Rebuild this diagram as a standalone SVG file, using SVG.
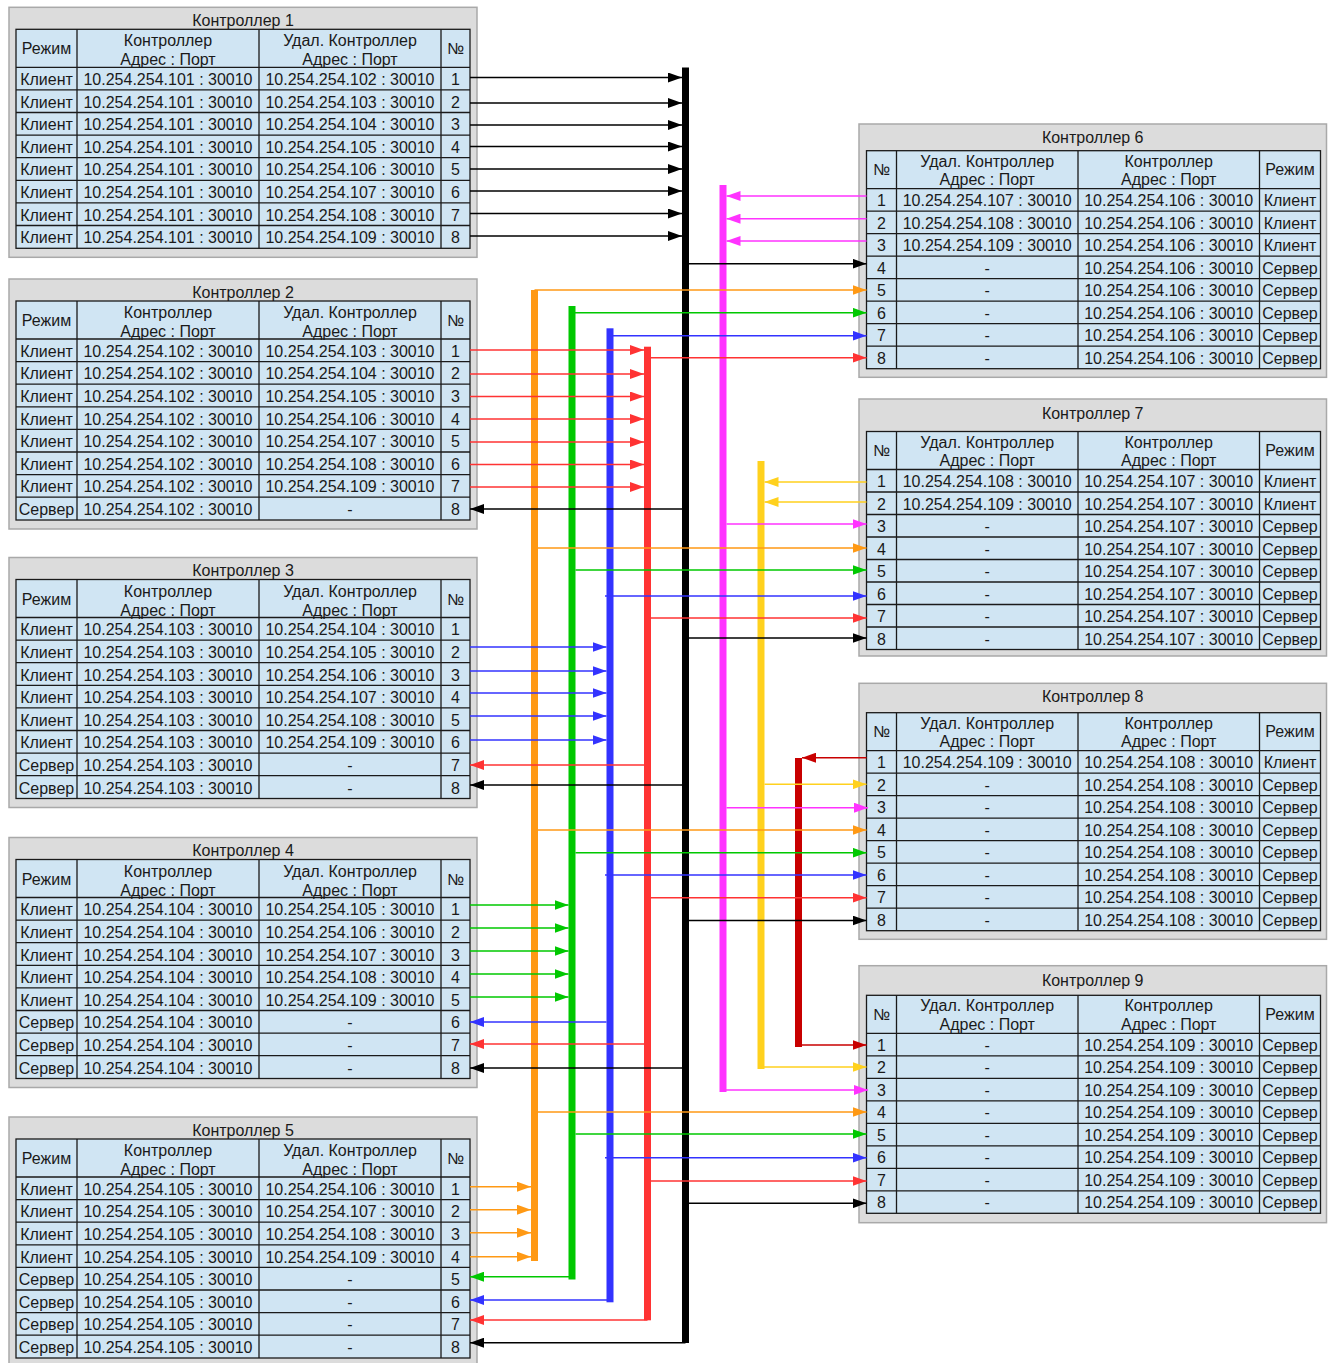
<svg xmlns="http://www.w3.org/2000/svg" xmlns:xlink="http://www.w3.org/1999/xlink" width="1332" height="1363" viewBox="0 0 1332 1363">
<style>
text{font-family:"Liberation Sans",Arial,sans-serif;font-size:16px;fill:#1a1a1a;text-anchor:middle}
.o{fill:#dcdcdc;stroke:#a9a9a9;stroke-width:1.5}
.c{fill:#d0e5f3;stroke:#1a1a1a;stroke-width:1.3}
.g{fill:none;stroke:#1a1a1a;stroke-width:1.3}
.e{fill:none;stroke-width:1.6}
.k{stroke:#000000}.kf{fill:#000000}
.or{stroke:#ff9914}.orf{fill:#ff9914}
.gr{stroke:#00c800}.grf{fill:#00c800}
.bl{stroke:#3333ff}.blf{fill:#3333ff}
.rd{stroke:#ff3333}.rdf{fill:#ff3333}
.mg{stroke:#ff33ff}.mgf{fill:#ff33ff}
.ye{stroke:#ffd11e}.yef{fill:#ffd11e}
.dr{stroke:#c80000}.drf{fill:#c80000}
.ak{marker-end:url(#ak)}.aor{marker-end:url(#aor)}.agr{marker-end:url(#agr)}.abl{marker-end:url(#abl)}
.ard{marker-end:url(#ard)}.amg{marker-end:url(#amg)}.aye{marker-end:url(#aye)}.adr{marker-end:url(#adr)}
</style>
<defs>
<marker id="ak" markerUnits="userSpaceOnUse" markerWidth="14" markerHeight="10" refX="14" refY="5" orient="auto"><path d="M0,0L14,5L0,10z" fill="#000000"/></marker>
<marker id="aor" markerUnits="userSpaceOnUse" markerWidth="14" markerHeight="10" refX="14" refY="5" orient="auto"><path d="M0,0L14,5L0,10z" fill="#ff9914"/></marker>
<marker id="agr" markerUnits="userSpaceOnUse" markerWidth="14" markerHeight="10" refX="14" refY="5" orient="auto"><path d="M0,0L14,5L0,10z" fill="#00c800"/></marker>
<marker id="abl" markerUnits="userSpaceOnUse" markerWidth="14" markerHeight="10" refX="14" refY="5" orient="auto"><path d="M0,0L14,5L0,10z" fill="#3333ff"/></marker>
<marker id="ard" markerUnits="userSpaceOnUse" markerWidth="14" markerHeight="10" refX="14" refY="5" orient="auto"><path d="M0,0L14,5L0,10z" fill="#ff3333"/></marker>
<marker id="amg" markerUnits="userSpaceOnUse" markerWidth="14" markerHeight="10" refX="14" refY="5" orient="auto"><path d="M0,0L14,5L0,10z" fill="#ff33ff"/></marker>
<marker id="aye" markerUnits="userSpaceOnUse" markerWidth="14" markerHeight="10" refX="14" refY="5" orient="auto"><path d="M0,0L14,5L0,10z" fill="#ffd11e"/></marker>
<marker id="adr" markerUnits="userSpaceOnUse" markerWidth="14" markerHeight="10" refX="14" refY="5" orient="auto"><path d="M0,0L14,5L0,10z" fill="#c80000"/></marker>
<g id="lgrid">
<rect class="c" x="16" y="22" width="454" height="219"/>
<path class="g" d="M77,22V241M259,22V241M441,22V241M16,60H470M16,82.6H470M16,105.2H470M16,127.8H470M16,150.4H470M16,173H470M16,195.6H470M16,218.2H470"/>
<text x="46.5" y="47">Режим</text>
<text x="168" y="39">Контроллер</text>
<text x="168" y="58">Адрес : Порт</text>
<text x="350" y="39">Удал. Контроллер</text>
<text x="350" y="58">Адрес : Порт</text>
<text x="455.5" y="47">№</text>
</g>
<g id="rgrid">
<rect class="c" x="866.5" y="0" width="454" height="218"/>
<path class="g" d="M896.5,0V218M1078,0V218M1259.5,0V218M866.5,38H1320.5M866.5,60.5H1320.5M866.5,83H1320.5M866.5,105.5H1320.5M866.5,128H1320.5M866.5,150.5H1320.5M866.5,173H1320.5M866.5,195.5H1320.5"/>
<text x="881.5" y="24.3">№</text>
<text x="987.2" y="16">Удал. Контроллер</text>
<text x="987.2" y="34.3">Адрес : Порт</text>
<text x="1168.7" y="16">Контроллер</text>
<text x="1168.7" y="34.3">Адрес : Порт</text>
<text x="1290" y="24.3">Режим</text>
</g>
</defs>

<g id="controller1" transform="translate(0,7.3)">
<rect class="o" x="9" y="0" width="468" height="250"/>
<text x="243" y="18.5">Контроллер 1</text>
<use xlink:href="#lgrid" href="#lgrid"/>
<text x="46.5" y="77.8">Клиент</text><text x="168" y="77.8">10.254.254.101 : 30010</text><text x="350" y="77.8">10.254.254.102 : 30010</text><text x="455.5" y="77.8">1</text>
<text x="46.5" y="100.4">Клиент</text><text x="168" y="100.4">10.254.254.101 : 30010</text><text x="350" y="100.4">10.254.254.103 : 30010</text><text x="455.5" y="100.4">2</text>
<text x="46.5" y="123">Клиент</text><text x="168" y="123">10.254.254.101 : 30010</text><text x="350" y="123">10.254.254.104 : 30010</text><text x="455.5" y="123">3</text>
<text x="46.5" y="145.6">Клиент</text><text x="168" y="145.6">10.254.254.101 : 30010</text><text x="350" y="145.6">10.254.254.105 : 30010</text><text x="455.5" y="145.6">4</text>
<text x="46.5" y="168.2">Клиент</text><text x="168" y="168.2">10.254.254.101 : 30010</text><text x="350" y="168.2">10.254.254.106 : 30010</text><text x="455.5" y="168.2">5</text>
<text x="46.5" y="190.8">Клиент</text><text x="168" y="190.8">10.254.254.101 : 30010</text><text x="350" y="190.8">10.254.254.107 : 30010</text><text x="455.5" y="190.8">6</text>
<text x="46.5" y="213.4">Клиент</text><text x="168" y="213.4">10.254.254.101 : 30010</text><text x="350" y="213.4">10.254.254.108 : 30010</text><text x="455.5" y="213.4">7</text>
<text x="46.5" y="236">Клиент</text><text x="168" y="236">10.254.254.101 : 30010</text><text x="350" y="236">10.254.254.109 : 30010</text><text x="455.5" y="236">8</text>
</g>

<g id="controller2" transform="translate(0,279)">
<rect class="o" x="9" y="0" width="468" height="250"/>
<text x="243" y="18.5">Контроллер 2</text>
<use xlink:href="#lgrid" href="#lgrid"/>
<text x="46.5" y="77.8">Клиент</text><text x="168" y="77.8">10.254.254.102 : 30010</text><text x="350" y="77.8">10.254.254.103 : 30010</text><text x="455.5" y="77.8">1</text>
<text x="46.5" y="100.4">Клиент</text><text x="168" y="100.4">10.254.254.102 : 30010</text><text x="350" y="100.4">10.254.254.104 : 30010</text><text x="455.5" y="100.4">2</text>
<text x="46.5" y="123">Клиент</text><text x="168" y="123">10.254.254.102 : 30010</text><text x="350" y="123">10.254.254.105 : 30010</text><text x="455.5" y="123">3</text>
<text x="46.5" y="145.6">Клиент</text><text x="168" y="145.6">10.254.254.102 : 30010</text><text x="350" y="145.6">10.254.254.106 : 30010</text><text x="455.5" y="145.6">4</text>
<text x="46.5" y="168.2">Клиент</text><text x="168" y="168.2">10.254.254.102 : 30010</text><text x="350" y="168.2">10.254.254.107 : 30010</text><text x="455.5" y="168.2">5</text>
<text x="46.5" y="190.8">Клиент</text><text x="168" y="190.8">10.254.254.102 : 30010</text><text x="350" y="190.8">10.254.254.108 : 30010</text><text x="455.5" y="190.8">6</text>
<text x="46.5" y="213.4">Клиент</text><text x="168" y="213.4">10.254.254.102 : 30010</text><text x="350" y="213.4">10.254.254.109 : 30010</text><text x="455.5" y="213.4">7</text>
<text x="46.5" y="236">Сервер</text><text x="168" y="236">10.254.254.102 : 30010</text><text x="350" y="236">-</text><text x="455.5" y="236">8</text>
</g>

<g id="controller3" transform="translate(0,557.5)">
<rect class="o" x="9" y="0" width="468" height="250"/>
<text x="243" y="18.5">Контроллер 3</text>
<use xlink:href="#lgrid" href="#lgrid"/>
<text x="46.5" y="77.8">Клиент</text><text x="168" y="77.8">10.254.254.103 : 30010</text><text x="350" y="77.8">10.254.254.104 : 30010</text><text x="455.5" y="77.8">1</text>
<text x="46.5" y="100.4">Клиент</text><text x="168" y="100.4">10.254.254.103 : 30010</text><text x="350" y="100.4">10.254.254.105 : 30010</text><text x="455.5" y="100.4">2</text>
<text x="46.5" y="123">Клиент</text><text x="168" y="123">10.254.254.103 : 30010</text><text x="350" y="123">10.254.254.106 : 30010</text><text x="455.5" y="123">3</text>
<text x="46.5" y="145.6">Клиент</text><text x="168" y="145.6">10.254.254.103 : 30010</text><text x="350" y="145.6">10.254.254.107 : 30010</text><text x="455.5" y="145.6">4</text>
<text x="46.5" y="168.2">Клиент</text><text x="168" y="168.2">10.254.254.103 : 30010</text><text x="350" y="168.2">10.254.254.108 : 30010</text><text x="455.5" y="168.2">5</text>
<text x="46.5" y="190.8">Клиент</text><text x="168" y="190.8">10.254.254.103 : 30010</text><text x="350" y="190.8">10.254.254.109 : 30010</text><text x="455.5" y="190.8">6</text>
<text x="46.5" y="213.4">Сервер</text><text x="168" y="213.4">10.254.254.103 : 30010</text><text x="350" y="213.4">-</text><text x="455.5" y="213.4">7</text>
<text x="46.5" y="236">Сервер</text><text x="168" y="236">10.254.254.103 : 30010</text><text x="350" y="236">-</text><text x="455.5" y="236">8</text>
</g>

<g id="controller4" transform="translate(0,837.5)">
<rect class="o" x="9" y="0" width="468" height="250"/>
<text x="243" y="18.5">Контроллер 4</text>
<use xlink:href="#lgrid" href="#lgrid"/>
<text x="46.5" y="77.8">Клиент</text><text x="168" y="77.8">10.254.254.104 : 30010</text><text x="350" y="77.8">10.254.254.105 : 30010</text><text x="455.5" y="77.8">1</text>
<text x="46.5" y="100.4">Клиент</text><text x="168" y="100.4">10.254.254.104 : 30010</text><text x="350" y="100.4">10.254.254.106 : 30010</text><text x="455.5" y="100.4">2</text>
<text x="46.5" y="123">Клиент</text><text x="168" y="123">10.254.254.104 : 30010</text><text x="350" y="123">10.254.254.107 : 30010</text><text x="455.5" y="123">3</text>
<text x="46.5" y="145.6">Клиент</text><text x="168" y="145.6">10.254.254.104 : 30010</text><text x="350" y="145.6">10.254.254.108 : 30010</text><text x="455.5" y="145.6">4</text>
<text x="46.5" y="168.2">Клиент</text><text x="168" y="168.2">10.254.254.104 : 30010</text><text x="350" y="168.2">10.254.254.109 : 30010</text><text x="455.5" y="168.2">5</text>
<text x="46.5" y="190.8">Сервер</text><text x="168" y="190.8">10.254.254.104 : 30010</text><text x="350" y="190.8">-</text><text x="455.5" y="190.8">6</text>
<text x="46.5" y="213.4">Сервер</text><text x="168" y="213.4">10.254.254.104 : 30010</text><text x="350" y="213.4">-</text><text x="455.5" y="213.4">7</text>
<text x="46.5" y="236">Сервер</text><text x="168" y="236">10.254.254.104 : 30010</text><text x="350" y="236">-</text><text x="455.5" y="236">8</text>
</g>

<g id="controller5" transform="translate(0,1117)">
<rect class="o" x="9" y="0" width="468" height="250"/>
<text x="243" y="18.5">Контроллер 5</text>
<use xlink:href="#lgrid" href="#lgrid"/>
<text x="46.5" y="77.8">Клиент</text><text x="168" y="77.8">10.254.254.105 : 30010</text><text x="350" y="77.8">10.254.254.106 : 30010</text><text x="455.5" y="77.8">1</text>
<text x="46.5" y="100.4">Клиент</text><text x="168" y="100.4">10.254.254.105 : 30010</text><text x="350" y="100.4">10.254.254.107 : 30010</text><text x="455.5" y="100.4">2</text>
<text x="46.5" y="123">Клиент</text><text x="168" y="123">10.254.254.105 : 30010</text><text x="350" y="123">10.254.254.108 : 30010</text><text x="455.5" y="123">3</text>
<text x="46.5" y="145.6">Клиент</text><text x="168" y="145.6">10.254.254.105 : 30010</text><text x="350" y="145.6">10.254.254.109 : 30010</text><text x="455.5" y="145.6">4</text>
<text x="46.5" y="168.2">Сервер</text><text x="168" y="168.2">10.254.254.105 : 30010</text><text x="350" y="168.2">-</text><text x="455.5" y="168.2">5</text>
<text x="46.5" y="190.8">Сервер</text><text x="168" y="190.8">10.254.254.105 : 30010</text><text x="350" y="190.8">-</text><text x="455.5" y="190.8">6</text>
<text x="46.5" y="213.4">Сервер</text><text x="168" y="213.4">10.254.254.105 : 30010</text><text x="350" y="213.4">-</text><text x="455.5" y="213.4">7</text>
<text x="46.5" y="236">Сервер</text><text x="168" y="236">10.254.254.105 : 30010</text><text x="350" y="236">-</text><text x="455.5" y="236">8</text>
</g>

<g id="controller6" transform="translate(0,150.7)">
<rect class="o" x="859" y="-26.7" width="467.5" height="253.3"/>
<text x="1092.7" y="-8">Контроллер 6</text>
<use xlink:href="#rgrid" href="#rgrid"/>
<text x="881.5" y="55.5">1</text><text x="987.2" y="55.5">10.254.254.107 : 30010</text><text x="1168.7" y="55.5">10.254.254.106 : 30010</text><text x="1290" y="55.5">Клиент</text>
<text x="881.5" y="78">2</text><text x="987.2" y="78">10.254.254.108 : 30010</text><text x="1168.7" y="78">10.254.254.106 : 30010</text><text x="1290" y="78">Клиент</text>
<text x="881.5" y="100.5">3</text><text x="987.2" y="100.5">10.254.254.109 : 30010</text><text x="1168.7" y="100.5">10.254.254.106 : 30010</text><text x="1290" y="100.5">Клиент</text>
<text x="881.5" y="123">4</text><text x="987.2" y="123">-</text><text x="1168.7" y="123">10.254.254.106 : 30010</text><text x="1290" y="123">Сервер</text>
<text x="881.5" y="145.5">5</text><text x="987.2" y="145.5">-</text><text x="1168.7" y="145.5">10.254.254.106 : 30010</text><text x="1290" y="145.5">Сервер</text>
<text x="881.5" y="168">6</text><text x="987.2" y="168">-</text><text x="1168.7" y="168">10.254.254.106 : 30010</text><text x="1290" y="168">Сервер</text>
<text x="881.5" y="190.5">7</text><text x="987.2" y="190.5">-</text><text x="1168.7" y="190.5">10.254.254.106 : 30010</text><text x="1290" y="190.5">Сервер</text>
<text x="881.5" y="213">8</text><text x="987.2" y="213">-</text><text x="1168.7" y="213">10.254.254.106 : 30010</text><text x="1290" y="213">Сервер</text>
</g>

<g id="controller7" transform="translate(0,431.5)">
<rect class="o" x="859" y="-32.5" width="467.5" height="257"/>
<text x="1092.7" y="-12.2">Контроллер 7</text>
<use xlink:href="#rgrid" href="#rgrid"/>
<text x="881.5" y="55.5">1</text><text x="987.2" y="55.5">10.254.254.108 : 30010</text><text x="1168.7" y="55.5">10.254.254.107 : 30010</text><text x="1290" y="55.5">Клиент</text>
<text x="881.5" y="78">2</text><text x="987.2" y="78">10.254.254.109 : 30010</text><text x="1168.7" y="78">10.254.254.107 : 30010</text><text x="1290" y="78">Клиент</text>
<text x="881.5" y="100.5">3</text><text x="987.2" y="100.5">-</text><text x="1168.7" y="100.5">10.254.254.107 : 30010</text><text x="1290" y="100.5">Сервер</text>
<text x="881.5" y="123">4</text><text x="987.2" y="123">-</text><text x="1168.7" y="123">10.254.254.107 : 30010</text><text x="1290" y="123">Сервер</text>
<text x="881.5" y="145.5">5</text><text x="987.2" y="145.5">-</text><text x="1168.7" y="145.5">10.254.254.107 : 30010</text><text x="1290" y="145.5">Сервер</text>
<text x="881.5" y="168">6</text><text x="987.2" y="168">-</text><text x="1168.7" y="168">10.254.254.107 : 30010</text><text x="1290" y="168">Сервер</text>
<text x="881.5" y="190.5">7</text><text x="987.2" y="190.5">-</text><text x="1168.7" y="190.5">10.254.254.107 : 30010</text><text x="1290" y="190.5">Сервер</text>
<text x="881.5" y="213">8</text><text x="987.2" y="213">-</text><text x="1168.7" y="213">10.254.254.107 : 30010</text><text x="1290" y="213">Сервер</text>
</g>

<g id="controller8" transform="translate(0,712.7)">
<rect class="o" x="859" y="-29.4" width="467.5" height="256"/>
<text x="1092.7" y="-10.7">Контроллер 8</text>
<use xlink:href="#rgrid" href="#rgrid"/>
<text x="881.5" y="55.5">1</text><text x="987.2" y="55.5">10.254.254.109 : 30010</text><text x="1168.7" y="55.5">10.254.254.108 : 30010</text><text x="1290" y="55.5">Клиент</text>
<text x="881.5" y="78">2</text><text x="987.2" y="78">-</text><text x="1168.7" y="78">10.254.254.108 : 30010</text><text x="1290" y="78">Сервер</text>
<text x="881.5" y="100.5">3</text><text x="987.2" y="100.5">-</text><text x="1168.7" y="100.5">10.254.254.108 : 30010</text><text x="1290" y="100.5">Сервер</text>
<text x="881.5" y="123">4</text><text x="987.2" y="123">-</text><text x="1168.7" y="123">10.254.254.108 : 30010</text><text x="1290" y="123">Сервер</text>
<text x="881.5" y="145.5">5</text><text x="987.2" y="145.5">-</text><text x="1168.7" y="145.5">10.254.254.108 : 30010</text><text x="1290" y="145.5">Сервер</text>
<text x="881.5" y="168">6</text><text x="987.2" y="168">-</text><text x="1168.7" y="168">10.254.254.108 : 30010</text><text x="1290" y="168">Сервер</text>
<text x="881.5" y="190.5">7</text><text x="987.2" y="190.5">-</text><text x="1168.7" y="190.5">10.254.254.108 : 30010</text><text x="1290" y="190.5">Сервер</text>
<text x="881.5" y="213">8</text><text x="987.2" y="213">-</text><text x="1168.7" y="213">10.254.254.108 : 30010</text><text x="1290" y="213">Сервер</text>
</g>

<g id="controller9" transform="translate(0,995.3)">
<rect class="o" x="859" y="-29.6" width="467.5" height="257"/>
<text x="1092.7" y="-9.8">Контроллер 9</text>
<use xlink:href="#rgrid" href="#rgrid"/>
<text x="881.5" y="55.5">1</text><text x="987.2" y="55.5">-</text><text x="1168.7" y="55.5">10.254.254.109 : 30010</text><text x="1290" y="55.5">Сервер</text>
<text x="881.5" y="78">2</text><text x="987.2" y="78">-</text><text x="1168.7" y="78">10.254.254.109 : 30010</text><text x="1290" y="78">Сервер</text>
<text x="881.5" y="100.5">3</text><text x="987.2" y="100.5">-</text><text x="1168.7" y="100.5">10.254.254.109 : 30010</text><text x="1290" y="100.5">Сервер</text>
<text x="881.5" y="123">4</text><text x="987.2" y="123">-</text><text x="1168.7" y="123">10.254.254.109 : 30010</text><text x="1290" y="123">Сервер</text>
<text x="881.5" y="145.5">5</text><text x="987.2" y="145.5">-</text><text x="1168.7" y="145.5">10.254.254.109 : 30010</text><text x="1290" y="145.5">Сервер</text>
<text x="881.5" y="168">6</text><text x="987.2" y="168">-</text><text x="1168.7" y="168">10.254.254.109 : 30010</text><text x="1290" y="168">Сервер</text>
<text x="881.5" y="190.5">7</text><text x="987.2" y="190.5">-</text><text x="1168.7" y="190.5">10.254.254.109 : 30010</text><text x="1290" y="190.5">Сервер</text>
<text x="881.5" y="213">8</text><text x="987.2" y="213">-</text><text x="1168.7" y="213">10.254.254.109 : 30010</text><text x="1290" y="213">Сервер</text>
</g>

<g id="connectors">
<g id="bars">
<rect class="orf" x="531" y="290" width="7" height="971"/>
<rect class="grf" x="568.5" y="306" width="7" height="973.5"/>
<rect class="blf" x="606.5" y="328.3" width="7" height="974"/>
<rect class="rdf" x="644" y="346.7" width="7" height="973.6"/>
<rect class="kf" x="682" y="67.5" width="7" height="1275.5"/>
<rect class="mgf" x="719.5" y="185" width="7" height="907"/>
<rect class="yef" x="757.5" y="461" width="7" height="608"/>
<rect class="drf" x="795" y="758" width="7" height="289"/>
</g>
<g id="black-edges" class="e k">
<path class="ak" d="M470,77.5H682"/>
<path class="ak" d="M470,103H682"/>
<path class="ak" d="M470,125H682"/>
<path class="ak" d="M470,146.5H682"/>
<path class="ak" d="M470,169H682"/>
<path class="ak" d="M470,191H682"/>
<path class="ak" d="M470,213.5H682"/>
<path class="ak" d="M470,236H682"/>
<path class="ak" d="M689,263.7H866.5"/>
<path class="ak" d="M689,638H866.5"/>
<path class="ak" d="M689,920.5H866.5"/>
<path class="ak" d="M689,1203.3H866.5"/>
<path class="ak" d="M682,509H470"/>
<path class="ak" d="M682,785H470"/>
<path class="ak" d="M682,1068H470"/>
<path class="ak" d="M685.5,1342.7H470"/>
</g>
<g id="orange-edges" class="e or">
<path class="aor" d="M534.5,290H866.5"/>
<path class="aor" d="M538,548H866.5"/>
<path class="aor" d="M538,830H866.5"/>
<path class="aor" d="M538,1112H866.5"/>
<path class="aor" d="M470,1186.7H531"/>
<path class="aor" d="M470,1209.7H531"/>
<path class="aor" d="M470,1232.7H531"/>
<path class="aor" d="M470,1256.7H531"/>
</g>
<g id="green-edges" class="e gr">
<path class="agr" d="M572,312.7H866.5"/>
<path class="agr" d="M575.5,570H866.5"/>
<path class="agr" d="M575.5,852.7H866.5"/>
<path class="agr" d="M575.5,1134H866.5"/>
<path class="agr" d="M470,905H568.5"/>
<path class="agr" d="M470,928H568.5"/>
<path class="agr" d="M470,951H568.5"/>
<path class="agr" d="M470,974H568.5"/>
<path class="agr" d="M470,997H568.5"/>
<path class="agr" d="M572,1276.7H470"/>
</g>
<g id="blue-edges" class="e bl">
<path class="abl" d="M610,335.7H866.5"/>
<path class="abl" d="M605,596H866.5"/>
<path class="abl" d="M605,875H866.5"/>
<path class="abl" d="M605,1157.7H866.5"/>
<path class="abl" d="M470,647H606.5"/>
<path class="abl" d="M470,671H606.5"/>
<path class="abl" d="M470,693H606.5"/>
<path class="abl" d="M470,716H606.5"/>
<path class="abl" d="M470,740H606.5"/>
<path class="abl" d="M606.5,1022H470"/>
<path class="abl" d="M610,1300H470"/>
</g>
<g id="red-edges" class="e rd">
<path class="ard" d="M647.5,357.7H866.5"/>
<path class="ard" d="M651,618H866.5"/>
<path class="ard" d="M651,897.7H866.5"/>
<path class="ard" d="M651,1181H866.5"/>
<path class="ard" d="M470,350H644"/>
<path class="ard" d="M470,374H644"/>
<path class="ard" d="M470,396.5H644"/>
<path class="ard" d="M470,419H644"/>
<path class="ard" d="M470,442H644"/>
<path class="ard" d="M470,464.5H644"/>
<path class="ard" d="M470,487H644"/>
<path class="ard" d="M644,765H470"/>
<path class="ard" d="M644,1044H470"/>
<path class="ard" d="M647.5,1320H470"/>
</g>
<g id="magenta-edges" class="e mg">
<path class="amg" d="M866.5,196H726.5"/>
<path class="amg" d="M866.5,218.7H726.5"/>
<path class="amg" d="M866.5,241H726.5"/>
<path class="amg" d="M726.5,524H866.5"/>
<path class="amg" d="M726.5,807.7H868"/>
<path class="amg" d="M723,1090H868"/>
</g>
<g id="yellow-edges" class="e ye">
<path class="aye" d="M866.5,482H764.5"/>
<path class="aye" d="M866.5,502H764.5"/>
<path class="aye" d="M764.5,784.3H866.5"/>
<path class="aye" d="M761,1067H866.5"/>
</g>
<g id="darkred-edges" class="e dr">
<path class="adr" d="M866.5,757.7H802"/>
<path class="adr" d="M798.5,1045H866.5"/>
</g>
</g>
</svg>
